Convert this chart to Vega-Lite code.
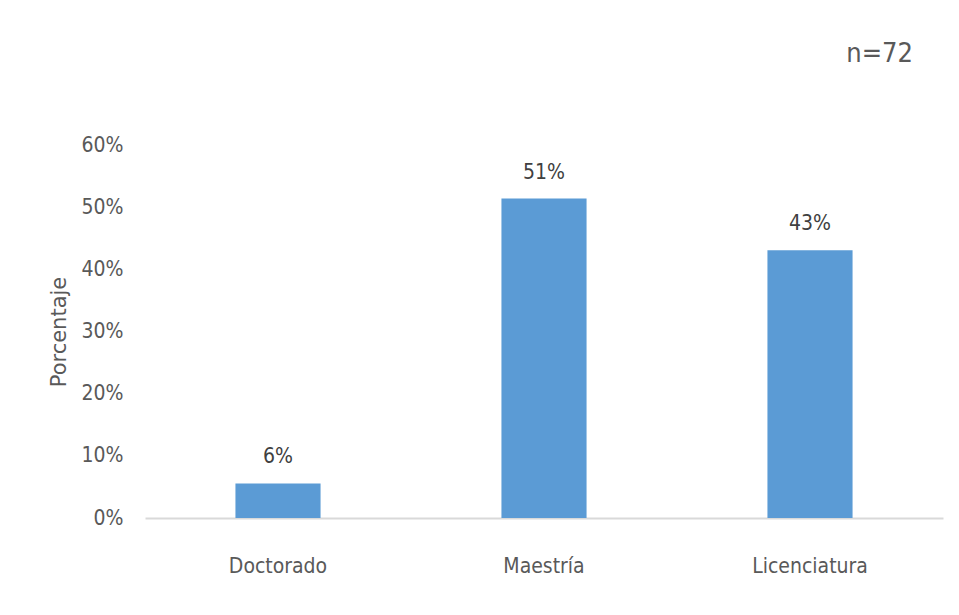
{
  "$schema": "https://vega.github.io/schema/vega-lite/v6.json",
  "width": 798,
  "height": 373,
  "autosize": {"type": "none"},
  "padding": {"left": 145, "top": 145, "right": 16, "bottom": 97},
  "background": "white",
  "config": {
    "view": {"stroke": null},
    "font": "DejaVu Sans Condensed"
  },
  "title": {
    "text": "n=72",
    "anchor": "end",
    "offset": 66,
    "dx": -30,
    "fontSize": 27,
    "fontWeight": "normal",
    "font": "DejaVu Sans Condensed",
    "color": "#595959"
  },
  "data": {
    "values": [
      {"nivel": "Doctorado", "porcentaje": 0.0556},
      {"nivel": "Maestría", "porcentaje": 0.5139},
      {"nivel": "Licenciatura", "porcentaje": 0.4306}
    ]
  },
  "encoding": {
    "x": {
      "field": "nivel",
      "type": "nominal",
      "sort": null,
      "scale": {"paddingInner": 0.68, "paddingOuter": 0.34},
      "axis": {
        "title": null,
        "labelAngle": 0,
        "labelFontSize": 21,
        "labelColor": "#595959",
        "labelPadding": 37,
        "ticks": false,
        "domainColor": "#d9d9d9",
        "domainWidth": 2,
        "grid": false
      }
    },
    "y": {
      "field": "porcentaje",
      "type": "quantitative",
      "scale": {"domain": [0, 0.6]},
      "axis": {
        "title": "Porcentaje",
        "titleFont": "DejaVu Sans",
        "titleFontSize": 21,
        "titleFontWeight": "normal",
        "titleColor": "#595959",
        "titlePadding": 12,
        "format": ".0%",
        "values": [0, 0.1, 0.2, 0.3, 0.4, 0.5, 0.6],
        "labelFontSize": 21,
        "labelColor": "#595959",
        "labelPadding": 22,
        "ticks": false,
        "domain": false,
        "grid": false
      }
    }
  },
  "layer": [
    {"mark": {"type": "bar", "color": "#5B9BD5"}},
    {
      "mark": {"type": "text", "baseline": "bottom", "dy": -16, "fontSize": 21, "color": "#404040"},
      "encoding": {"text": {"field": "porcentaje", "type": "quantitative", "format": ".0%"}}
    }
  ]
}
